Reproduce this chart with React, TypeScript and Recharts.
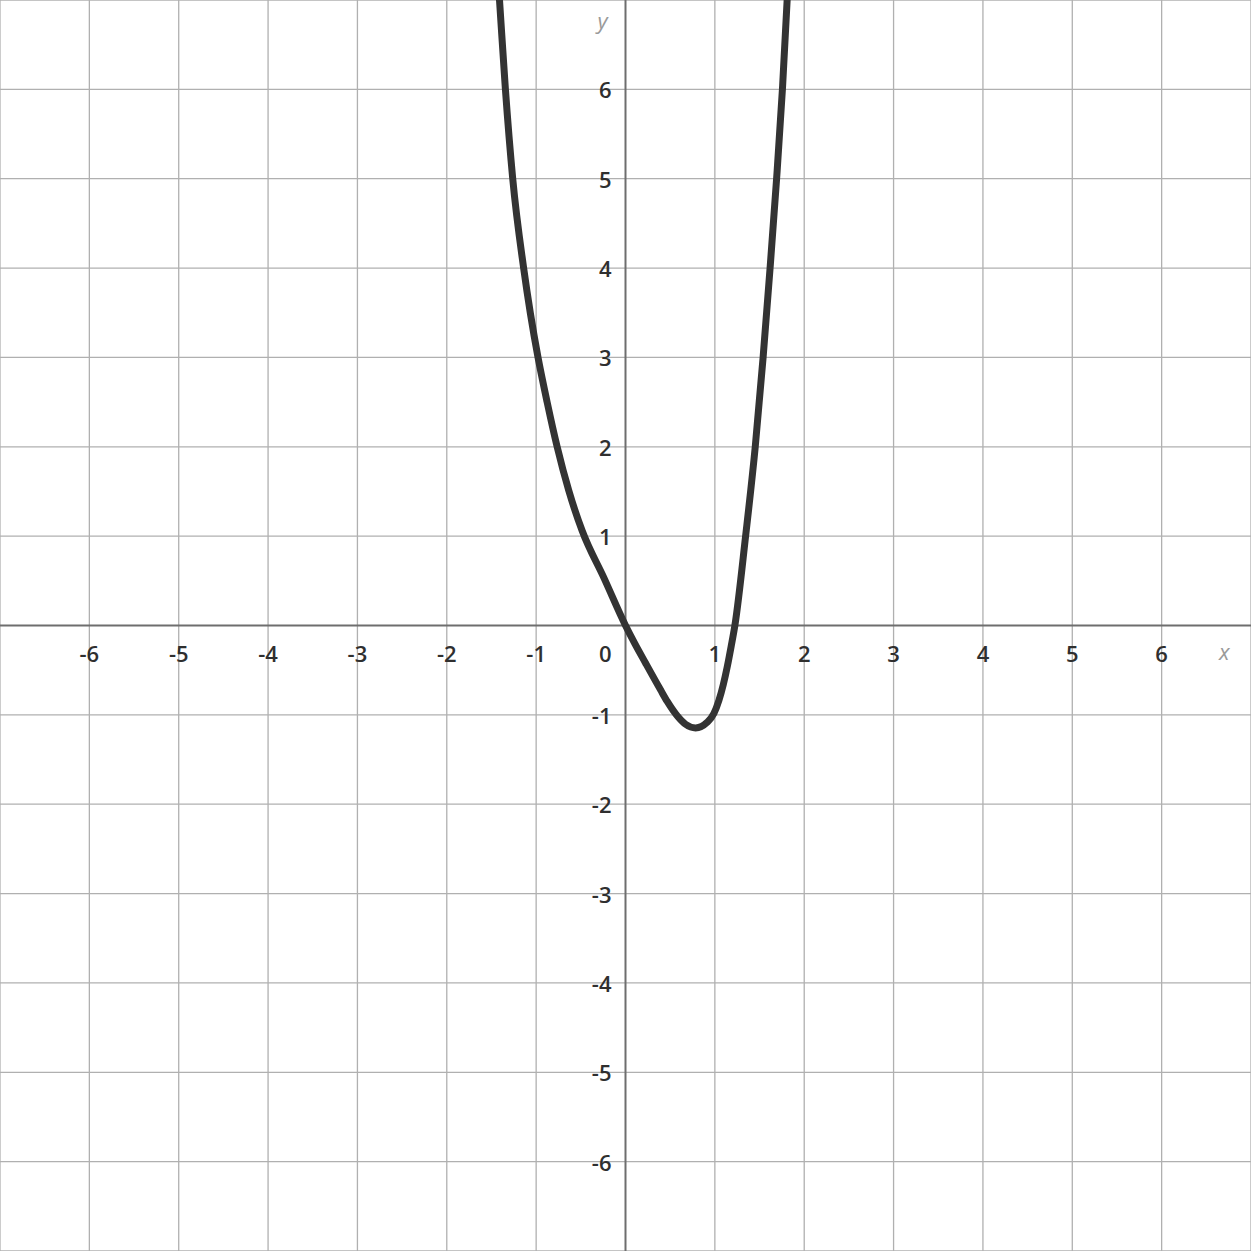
import { ComposedChart, Line, XAxis, YAxis, ReferenceLine, ReferenceDot } from "recharts";

// curve (runs a little past the top edge)
const curveX = [
  -1.43, -1.41, -1.344, -1.262, -1.14, -1.064, -0.979, -0.877, -0.765, -0.635, -0.485, -0.24, 0,
  0.1, 0.224, 0.392, 0.467, 0.578, 0.672, 0.784, 0.914, 0.989, 1.045, 1.094, 1.139, 1.183, 1.224,
  1.344, 1.452, 1.54, 1.618, 1.691, 1.756, 1.809, 1.822,
];
const curveY = [
  7.3, 7, 6, 5, 4, 3.49, 3, 2.5, 2, 1.51, 1.06, 0.53, 0,
  -0.195, -0.42, -0.72, -0.85, -1.01, -1.105, -1.146, -1.083, -0.985, -0.839, -0.663, -0.46, -0.23, 0,
  1, 2, 3, 4, 5, 6, 7, 7.3,
];

const gridTicks = [-7, -6, -5, -4, -3, -2, -1, 1, 2, 3, 4, 5, 6, 7];
const labelTicks = [-6, -5, -4, -3, -2, -1, 1, 2, 3, 4, 5, 6];

const data = curveX.map((x, i) => ({ x, y: curveY[i] }));

const FONT = "'Open Sans', 'Noto Sans', sans-serif";

function TickText(props: any) {
  const { viewBox, value, dx = 0, dy = 0, anchor = "middle", color = "#2f2f2f", italic = false } = props;
  if (!viewBox) return null;
  return (
    <text
      x={viewBox.x + dx}
      y={viewBox.y + dy}
      textAnchor={anchor}
      fill={color}
      fontFamily={FONT}
      fontSize={22}
      fontWeight={italic ? 400 : 600}
      fontStyle={italic ? "italic" : "normal"}
    >
      {value}
    </text>
  );
}

export default function App() {
  return (
    <div style={{ position: "absolute", left: 0, top: 0, background: "#fff" }}>
      <ComposedChart width={1251} height={1251} data={data} margin={{ top: 0, right: 0, bottom: 0, left: 0 }}>
        <XAxis
          type="number"
          dataKey="x"
          domain={[-7, 7]}
          height={0}
          tick={false}
          axisLine={false}
          tickLine={false}
          allowDataOverflow
        />
        <YAxis
          type="number"
          domain={[-7, 7]}
          width={0}
          tick={false}
          axisLine={false}
          tickLine={false}
          allowDataOverflow
        />

        {gridTicks.map((t) => (
          <ReferenceLine key={"gx" + t} x={t} stroke="#b0b0b0" strokeWidth={1.3} ifOverflow="visible" />
        ))}
        {gridTicks.map((t) => (
          <ReferenceLine key={"gy" + t} y={t} stroke="#b0b0b0" strokeWidth={1.3} ifOverflow="visible" />
        ))}
        <ReferenceLine x={0} stroke="#6e6e6e" strokeWidth={2} />
        <ReferenceLine y={0} stroke="#6e6e6e" strokeWidth={2} />

        {labelTicks.map((t) => (
          <ReferenceDot
            key={"x" + t}
            x={t}
            y={0}
            r={0}
            stroke="none"
            label={<TickText value={t} dy={36} />}
          />
        ))}
        {labelTicks.map((t) => (
          <ReferenceDot
            key={"y" + t}
            x={0}
            y={t}
            r={0}
            stroke="none"
            label={<TickText value={t} dx={-14} dy={9} anchor="end" />}
          />
        ))}
        <ReferenceDot x={0} y={0} r={0} stroke="none" label={<TickText value={0} dx={-14} dy={36} anchor="end" />} />
        <ReferenceDot x={6.7} y={0} r={0} stroke="none" label={<TickText value="x" dy={34} color="#9a9a9a" italic />} />
        <ReferenceDot x={0} y={6.85} r={0} stroke="none" label={<TickText value="y" dx={-23} dy={16} color="#9a9a9a" italic />} />

        <Line
          type="monotone"
          dataKey="y"
          stroke="#333333"
          strokeWidth={7}
          dot={false}
          isAnimationActive={false}
        />
      </ComposedChart>
    </div>
  );
}
